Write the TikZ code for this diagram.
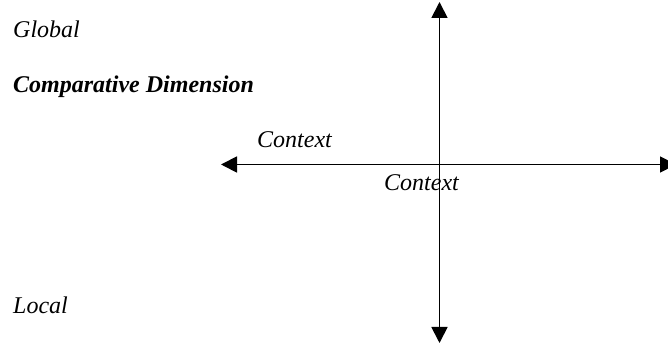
\documentclass[tikz,border=0pt]{standalone}
\usepackage{fontspec}
\setmainfont{Liberation Serif}
\usetikzlibrary{arrows.meta}
\begin{document}
\begin{tikzpicture}[x=1pt,y=1pt,
  lbl/.style={anchor=base west,inner sep=0pt,font=\fontsize{24}{28}\selectfont\itshape},
  axis/.style={line width=1.8pt,{Triangle[width=16pt,length=16pt]}-{Triangle[width=16pt,length=16pt]}}]
\useasboundingbox (0,0) rectangle (668,344);
\coordinate (top) at (439.5,342);
\coordinate (bot) at (439.5,1);
\coordinate (lft) at (221,179.5);
\coordinate (rgt) at (676,179.5);
\draw[axis] (bot) -- (top);
\draw[axis] (lft) -- (rgt);
\node[lbl] (global) at (13,306) {Global};
\node[lbl,font=\fontsize{24}{28}\selectfont\bfseries\itshape] (comp) at (13,251) {Comparative Dimension};
\node[lbl] (ctx1) at (257,196) {Context};
\node[lbl] (ctx2) at (384,153) {Context};
\node[lbl] (local) at (13,30) {Local};
\end{tikzpicture}
\end{document}
